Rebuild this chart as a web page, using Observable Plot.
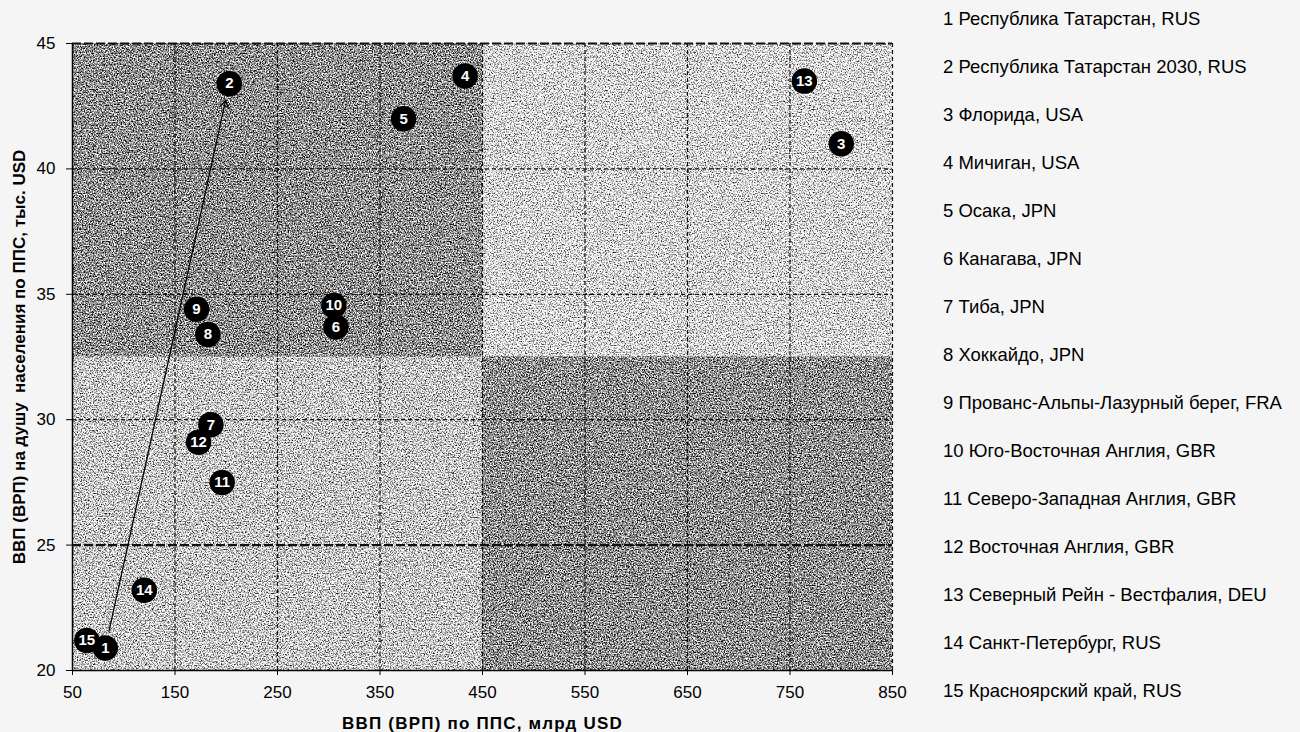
<!DOCTYPE html>
<html>
<head>
<meta charset="utf-8">
<script src="https://cdn.jsdelivr.net/npm/d3@7"></script>
<script src="https://cdn.jsdelivr.net/npm/@observablehq/plot@0.6"></script>
<style>
  html, body { margin: 0; padding: 0; background: #f5f5f5; }
  #wrap { position: relative; width: 1300px; height: 732px; overflow: hidden; font-family: "Liberation Sans", Arial, sans-serif; }
  #chart { position: absolute; left: 0; top: 0; }
  #legend { position: absolute; left: 943px; top: -5px; font-size: 18.5px; line-height: 48px; color: #000; white-space: pre; }
  g[aria-label="x-axis label"] text { font-weight: bold; font-size: 17px; letter-spacing: 1.2px; }
  g[aria-label="y-axis label"] text { font-weight: bold; font-size: 17px; letter-spacing: 0; }
  g[aria-label="x-axis tick label"] text, g[aria-label="y-axis tick label"] text { font-size: 17px; }
</style>
</head>
<body>
<div id="wrap">
  <div id="chart"></div>
  <div id="legend"></div>
</div>
<script>
// ---- data ----
const ids = ["1","2","3","4","5","6","7","8","9","10","11","12","13","14","15"];
const regionNames = [
  "Республика Татарстан, RUS",
  "Республика Татарстан 2030, RUS",
  "Флорида, USA",
  "Мичиган, USA",
  "Осака, JPN",
  "Канагава, JPN",
  "Тиба, JPN",
  "Хоккайдо, JPN",
  "Прованс-Альпы-Лазурный берег, FRA",
  "Юго-Восточная Англия, GBR",
  "Северо-Западная Англия, GBR",
  "Восточная Англия, GBR",
  "Северный Рейн - Вестфалия, DEU",
  "Санкт-Петербург, RUS",
  "Красноярский край, RUS"
];
const gdpPPP = [82, 203, 800, 433, 373, 307, 185, 182, 171, 305, 196, 173, 764, 120, 64];
const gdpPerCapita = [20.9, 43.4, 41.0, 43.7, 42.0, 33.7, 29.8, 33.4, 34.4, 34.55, 27.5, 29.1, 43.5, 23.2, 21.2];

const xTicks = [50, 150, 250, 350, 450, 550, 650, 750, 850];
const yTicks = [20, 25, 30, 35, 40, 45];

// background zones
const zoneX1 = [50, 450, 50, 450];
const zoneX2 = [450, 850, 450, 850];
const zoneY1 = [32.5, 32.5, 20, 20];
const zoneY2 = [45, 45, 32.5, 32.5];
const zoneTone = ["dark", "light", "mid", "dark"];

// arrow: from region 1 to region 2030 target
const arrowFrom = 0, arrowTo = 1;

// ---- build ----
const points = ids.map((id, i) => ({id, x: gdpPPP[i], y: gdpPerCapita[i]}));
const zones = zoneX1.map((_, i) => ({x1: zoneX1[i], x2: zoneX2[i], y1: zoneY1[i], y2: zoneY2[i], tone: zoneTone[i]}));
const toneColor = {dark: "#8e8e8e", mid: "#cacaca", light: "#dbdbdb"};
const arrows = [{x1: gdpPPP[arrowFrom], y1: gdpPerCapita[arrowFrom], x2: gdpPPP[arrowTo], y2: gdpPerCapita[arrowTo]}];

const thinGridX = xTicks.filter(v => v > 50);
const thinGridY = yTicks.filter(v => v === 30 || v === 35 || v === 40);
const thickGridY = yTicks.filter(v => v === 25 || v === 45);

const chart = Plot.plot({
  width: 930,
  height: 732,
  marginLeft: 72,
  marginRight: 38,
  marginTop: 43,
  marginBottom: 62,
  style: {fontFamily: "'Liberation Sans', Arial, sans-serif", fontSize: "17px", background: "transparent", color: "#000"},
  x: {domain: [50, 850]},
  y: {domain: [20, 45]},
  marks: [
    Plot.rect(zones, {x1: "x1", x2: "x2", y1: "y1", y2: "y2", fill: d => toneColor[d.tone]}),
    Plot.ruleX(thinGridX, {stroke: "#111", strokeWidth: 1.2, strokeDasharray: "4,3"}),
    Plot.ruleY(thinGridY, {stroke: "#111", strokeWidth: 1.2, strokeDasharray: "4,3"}),
    Plot.ruleY(thickGridY, {stroke: "#111", strokeWidth: 2.2, strokeDasharray: "9,3"}),
    Plot.ruleX([50], {stroke: "#000", strokeWidth: 1.5}),
    Plot.ruleY([20], {stroke: "#000", strokeWidth: 1.5}),
    Plot.axisX({ticks: xTicks, tickSize: 5, tickPadding: 10, tickFormat: d => String(d), fontSize: 17,
      label: "ВВП (ВРП) по ППС, млрд USD", labelAnchor: "center", labelOffset: 58, labelArrow: "none"}),
    Plot.axisY({ticks: yTicks, tickSize: 6, tickPadding: 11, tickFormat: d => String(d), fontSize: 17,
      label: "ВВП (ВРП) на душу  населения по ППС, тыс. USD", labelAnchor: "center", labelOffset: 60, labelArrow: "none"}),
    Plot.arrow(arrows, {x1: "x1", y1: "y1", x2: "x2", y2: "y2", stroke: "#000", strokeWidth: 1.3,
      insetStart: 17, insetEnd: 17, headLength: 10, bend: 0}),
    Plot.dot(points, {x: "x", y: "y", r: 12, fill: "#000", stroke: "#000"}),
    Plot.text(points, {x: "x", y: "y", text: "id", fill: "#fff", fontWeight: "bold", fontSize: 15})
  ]
});

// grainy scanned-print texture on the background zones
const ns = "http://www.w3.org/2000/svg";
const defs = document.createElementNS(ns, "defs");
defs.innerHTML = `
  <filter id="grain" x="0" y="0" width="100%" height="100%" color-interpolation-filters="sRGB">
    <feTurbulence type="fractalNoise" baseFrequency="0.75" numOctaves="2" seed="7" result="n"/>
    <feColorMatrix in="n" type="matrix" values="1 0 0 0 0  1 0 0 0 0  1 0 0 0 0  0 0 0 0 1" result="g"/>
    <feComposite in="SourceGraphic" in2="g" operator="arithmetic" k1="0" k2="1" k3="2.4" k4="-1.2" result="mix"/>
    <feComposite in="mix" in2="SourceGraphic" operator="in"/>
  </filter>`;
chart.insertBefore(defs, chart.firstChild);
const rectGroup = chart.querySelector('g[aria-label="rect"]');
if (rectGroup) rectGroup.setAttribute("filter", "url(#grain)");

document.getElementById("chart").appendChild(chart);

const legend = document.getElementById("legend");
legend.textContent = ids.map((id, i) => id + " " + regionNames[i]).join("\n");
</script>
</body>
</html>
